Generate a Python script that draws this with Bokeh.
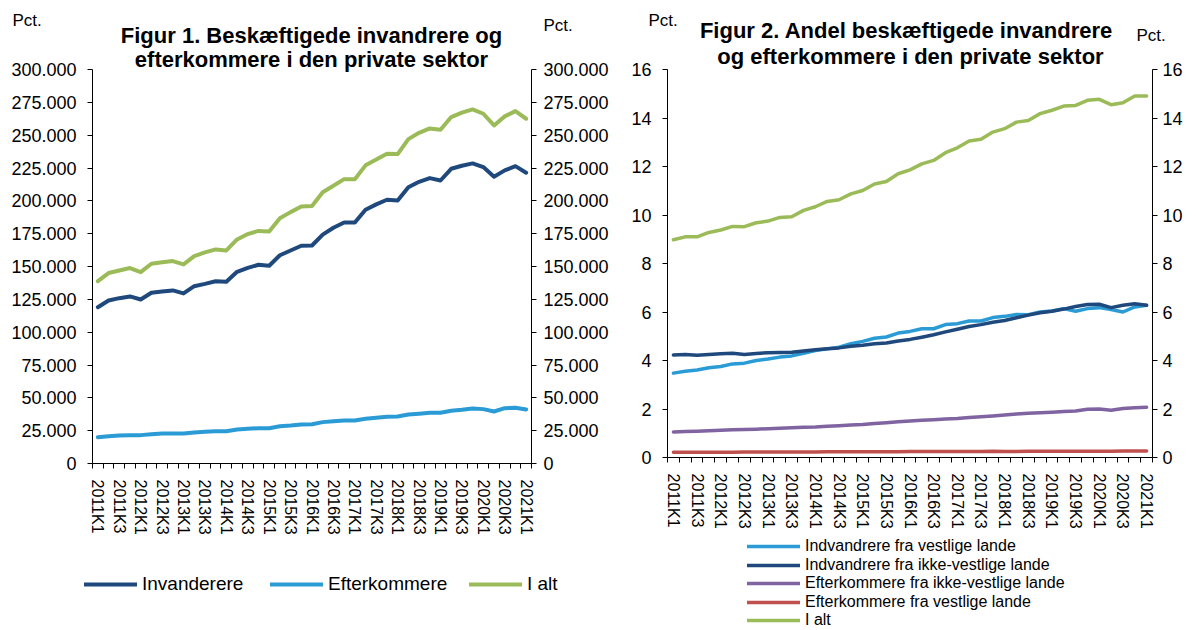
import math
from bokeh.plotting import figure
from bokeh.models import FixedTicker, LinearAxis, Label, Legend, LegendItem, Range1d
from bokeh.layouts import row
from bokeh.embed import file_html
from bokeh.resources import INLINE

# ---------------- data ----------------
quarters = ["2011K1", "2011K2", "2011K3", "2011K4", "2012K1", "2012K2", "2012K3", "2012K4",
            "2013K1", "2013K2", "2013K3", "2013K4", "2014K1", "2014K2", "2014K3", "2014K4",
            "2015K1", "2015K2", "2015K3", "2015K4", "2016K1", "2016K2", "2016K3", "2016K4",
            "2017K1", "2017K2", "2017K3", "2017K4", "2018K1", "2018K2", "2018K3", "2018K4",
            "2019K1", "2019K2", "2019K3", "2019K4", "2020K1", "2020K2", "2020K3", "2020K4",
            "2021K1"]
x_tick_labels = ["2011K1", "2011K3", "2012K1", "2012K3", "2013K1", "2013K3", "2014K1",
                 "2014K3", "2015K1", "2015K3", "2016K1", "2016K3", "2017K1", "2017K3",
                 "2018K1", "2018K3", "2019K1", "2019K3", "2020K1", "2020K3", "2021K1"]

# Figur 1 (antal personer)
invandrere = [119000, 124100, 125900, 127200, 124900, 130000, 131000, 131800, 129500, 135000,
              136800, 138800, 138400, 146000, 149000, 151300, 150600, 158600, 162200, 165800,
              166000, 174300, 179500, 183500, 183500, 193200, 197300, 200800, 200300, 210400,
              214500, 217300, 215500, 224400, 226700, 228500, 225700, 218400, 223200, 226400,
              221400]
efterkommere = [20000, 20800, 21300, 21600, 21600, 22300, 22800, 22800, 22800, 23600,
                24100, 24600, 24600, 25900, 26400, 26900, 26900, 28400, 28900, 29700,
                29900, 31500, 32200, 32800, 32800, 34000, 34800, 35600, 35800, 37300,
                37900, 38600, 38600, 40100, 40900, 41900, 41400, 39600, 42100, 42400,
                41100]
i_alt_1 = [138800, 145000, 147000, 148800, 145700, 152100, 153300, 154100, 151600, 157900,
           160700, 163000, 162200, 170600, 174700, 177100, 176700, 186800, 191400, 195700,
           196000, 206600, 211500, 216500, 216500, 227000, 231500, 235900, 235600, 247000,
           251800, 255100, 254100, 263800, 267100, 269600, 266300, 257400, 264300, 268300,
           262500]
y1_ticks = [0, 25000, 50000, 75000, 100000, 125000, 150000, 175000, 200000, 225000,
            250000, 275000, 300000]
y1_tick_labels = ["0", "25.000", "50.000", "75.000", "100.000", "125.000", "150.000",
                  "175.000", "200.000", "225.000", "250.000", "275.000", "300.000"]

# Figur 2 (pct.)
indv_vestlige = [3.48, 3.56, 3.61, 3.70, 3.75, 3.86, 3.89, 4.00, 4.06, 4.14,
                 4.19, 4.30, 4.41, 4.48, 4.55, 4.69, 4.79, 4.92, 4.97, 5.13,
                 5.20, 5.31, 5.31, 5.48, 5.52, 5.63, 5.63, 5.77, 5.82, 5.90,
                 5.89, 6.00, 6.04, 6.14, 6.03, 6.14, 6.18, 6.10, 6.00, 6.21,
                 6.28]
indv_ikke_vestlige = [4.23, 4.25, 4.22, 4.25, 4.28, 4.30, 4.25, 4.29, 4.32, 4.33,
                      4.34, 4.39, 4.44, 4.48, 4.52, 4.59, 4.63, 4.69, 4.72, 4.80,
                      4.87, 4.96, 5.06, 5.18, 5.29, 5.40, 5.48, 5.58, 5.65, 5.76,
                      5.87, 5.97, 6.03, 6.12, 6.23, 6.31, 6.32, 6.18, 6.28, 6.34,
                      6.28]
eft_ikke_vestlige = [1.05, 1.07, 1.08, 1.10, 1.12, 1.14, 1.15, 1.17, 1.19, 1.21,
                     1.23, 1.25, 1.26, 1.29, 1.31, 1.34, 1.36, 1.40, 1.43, 1.47,
                     1.51, 1.54, 1.56, 1.59, 1.61, 1.65, 1.68, 1.71, 1.75, 1.79,
                     1.82, 1.85, 1.87, 1.90, 1.92, 1.99, 2.00, 1.95, 2.02, 2.05,
                     2.07]
eft_vestlige = [0.22, 0.22, 0.22, 0.22, 0.22, 0.22, 0.23, 0.23, 0.23, 0.23,
                0.23, 0.23, 0.23, 0.24, 0.24, 0.24, 0.24, 0.24, 0.24, 0.24,
                0.25, 0.25, 0.25, 0.25, 0.25, 0.25, 0.25, 0.26, 0.25, 0.25,
                0.26, 0.26, 0.26, 0.26, 0.26, 0.26, 0.26, 0.26, 0.27, 0.27,
                0.27]
i_alt_2 = [8.98, 9.10, 9.10, 9.28, 9.38, 9.53, 9.52, 9.68, 9.75, 9.90,
           9.93, 10.19, 10.34, 10.56, 10.63, 10.87, 11.01, 11.28, 11.38, 11.70,
           11.86, 12.11, 12.25, 12.57, 12.77, 13.05, 13.12, 13.42, 13.56, 13.83,
           13.90, 14.18, 14.32, 14.49, 14.52, 14.73, 14.77, 14.55, 14.63, 14.91,
           14.91]
y2_ticks = [0, 2, 4, 6, 8, 10, 12, 14, 16]
y2_tick_labels = ["0", "2", "4", "6", "8", "10", "12", "14", "16"]

# ---------------- style / layout ----------------
FONT = "Liberation Sans"
DARK = "#1F497D"
LIGHT = "#2B9BD6"
GREEN = "#9BBB59"
PURPLE = "#8064A2"
RED = "#C0504D"
H = 630
XTICK_FS = "16px"
YTICK_FS = "18px"
xs = list(range(len(quarters)))


def span_range(d0, d1, a, b, length):
    """Range whose [d0, d1] lands on screen pixels [a, b] of a canvas of given length."""
    s = (d1 - d0) / (b - a)
    return Range1d(d0 - a * s, d1 + (length - b) * s)


def style_axis(a, standoff, fs):
    a.axis_line_color = "black"
    a.major_tick_line_color = "black"
    a.minor_tick_line_color = "black"
    a.major_label_standoff = standoff
    a.major_label_text_font = FONT
    a.major_label_text_font_size = fs
    a.major_label_text_color = "black"


def make_fig(width, plot_box, yticks, ylabels, standoff_l, standoff_r):
    left, right, top, bottom = plot_box
    x0, x1 = -0.5, len(quarters) - 0.5
    y0, y1 = yticks[0], yticks[-1]
    p = figure(width=width, height=H,
               x_range=span_range(x0, x1, left, right, width),
               y_range=span_range(y0, y1, H - bottom, H - top, H),
               output_backend="svg", toolbar_location=None,
               x_axis_type=None, y_axis_type=None,
               min_border=0, min_border_left=0, min_border_right=0,
               min_border_top=0, min_border_bottom=0)
    p.outline_line_color = None
    p.background_fill_color = "white"
    p.border_fill_color = "white"

    xt = FixedTicker(ticks=[quarters.index(l) for l in x_tick_labels],
                     minor_ticks=[i - 0.5 for i in range(len(quarters) + 1)])
    ax = LinearAxis(fixed_location=y0, bounds=(x0, x1), ticker=xt)
    ax.major_label_overrides = {quarters.index(l): l for l in x_tick_labels}
    ax.major_label_orientation = -math.pi / 2
    ax.major_tick_out = 0
    ax.major_tick_in = 0
    ax.minor_tick_out = 5
    ax.minor_tick_in = 0
    style_axis(ax, 11, XTICK_FS)
    p.add_layout(ax, "below")

    yt = FixedTicker(ticks=yticks, minor_ticks=[])
    overrides = {t: l for t, l in zip(yticks, ylabels)}
    for side, loc, so in (("left", x0, standoff_l), ("right", x1, standoff_r)):
        a = LinearAxis(fixed_location=loc, bounds=(y0, y1), ticker=yt)
        a.major_label_overrides = overrides
        a.major_tick_out = 5
        a.major_tick_in = 0
        a.minor_tick_out = 0
        a.minor_tick_in = 0
        style_axis(a, so, YTICK_FS)
        p.add_layout(a, side)
    return p


def add_text(p, off, x, y, text, size, bold=False, align="left"):
    p.add_layout(Label(x=x - off, y=H - y, x_units="screen", y_units="screen",
                       text=text, text_font=FONT, text_font_size=size,
                       text_font_style="bold" if bold else "normal",
                       text_align=align, text_baseline="middle", text_color="black"))


def add_legend_item(p, off, x, yc, label, renderer, fs):
    h = 18
    lg = Legend(items=[LegendItem(label=label, renderers=[renderer])],
                location=(x - off, H - yc - h / 2), orientation="horizontal",
                padding=0, margin=0, spacing=0, glyph_width=53, glyph_height=h,
                label_height=h, label_standoff=5,
                label_text_font=FONT, label_text_font_size=fs,
                label_text_color="black",
                border_line_color=None, background_fill_alpha=0)
    p.add_layout(lg)


# ---------------- Figur 1 ----------------
OFF1, W1 = 0, 620
p1 = make_fig(W1, (92, 531, 69, 463), y1_ticks, y1_tick_labels, 11, 7)
r_inv = p1.line(xs, invandrere, line_color=DARK, line_width=4, line_join="round", line_cap="round")
r_eft = p1.line(xs, efterkommere, line_color=LIGHT, line_width=4, line_join="round", line_cap="round")
r_alt = p1.line(xs, i_alt_1, line_color=GREEN, line_width=4, line_join="round", line_cap="round")

add_text(p1, OFF1, 311, 35, "Figur 1. Beskæftigede invandrere og", "22px", bold=True, align="center")
add_text(p1, OFF1, 311, 59, "efterkommere i den private sektor", "22px", bold=True, align="center")
add_text(p1, OFF1, 12, 20, "Pct.", "17px")
add_text(p1, OFF1, 543, 25, "Pct.", "17px")

add_legend_item(p1, OFF1, 84, 586, "Invanderere", r_inv, "19px")
add_legend_item(p1, OFF1, 270, 586, "Efterkommere", r_eft, "19px")
add_legend_item(p1, OFF1, 469, 586, "I alt", r_alt, "19px")

# ---------------- Figur 2 ----------------
OFF2, W2 = 620, 576
p2 = make_fig(W2, (667 - OFF2, 1152 - OFF2, 69, 457), y2_ticks, y2_tick_labels, 11, 5)
r_v = p2.line(xs, indv_vestlige, line_color=LIGHT, line_width=3.5, line_join="round", line_cap="round")
r_iv = p2.line(xs, indv_ikke_vestlige, line_color=DARK, line_width=3.5, line_join="round", line_cap="round")
r_eiv = p2.line(xs, eft_ikke_vestlige, line_color=PURPLE, line_width=3.5, line_join="round", line_cap="round")
r_ev = p2.line(xs, eft_vestlige, line_color=RED, line_width=3.5, line_join="round", line_cap="round")
r_alt2 = p2.line(xs, i_alt_2, line_color=GREEN, line_width=3.5, line_join="round", line_cap="round")

add_text(p2, OFF2, 906, 30, "Figur 2. Andel beskæftigede invandrere", "22px", bold=True, align="center")
add_text(p2, OFF2, 910, 56, "og efterkommere i den private sektor", "22px", bold=True, align="center")
add_text(p2, OFF2, 648, 20, "Pct.", "17px")
add_text(p2, OFF2, 1136, 35, "Pct.", "17px")

legend2 = [("Indvandrere fra vestlige lande", r_v, 546),
           ("Indvandrere fra ikke-vestlige lande", r_iv, 564.5),
           ("Efterkommere fra ikke-vestlige lande", r_eiv, 583),
           ("Efterkommere fra vestlige lande", r_ev, 601.5),
           ("I alt", r_alt2, 620)]
for lab, r, yc in legend2:
    add_legend_item(p2, OFF2, 747, yc, lab, r, "16px")

layout = row(p1, p2)
open("out.html", "w").write(file_html(layout, INLINE))
